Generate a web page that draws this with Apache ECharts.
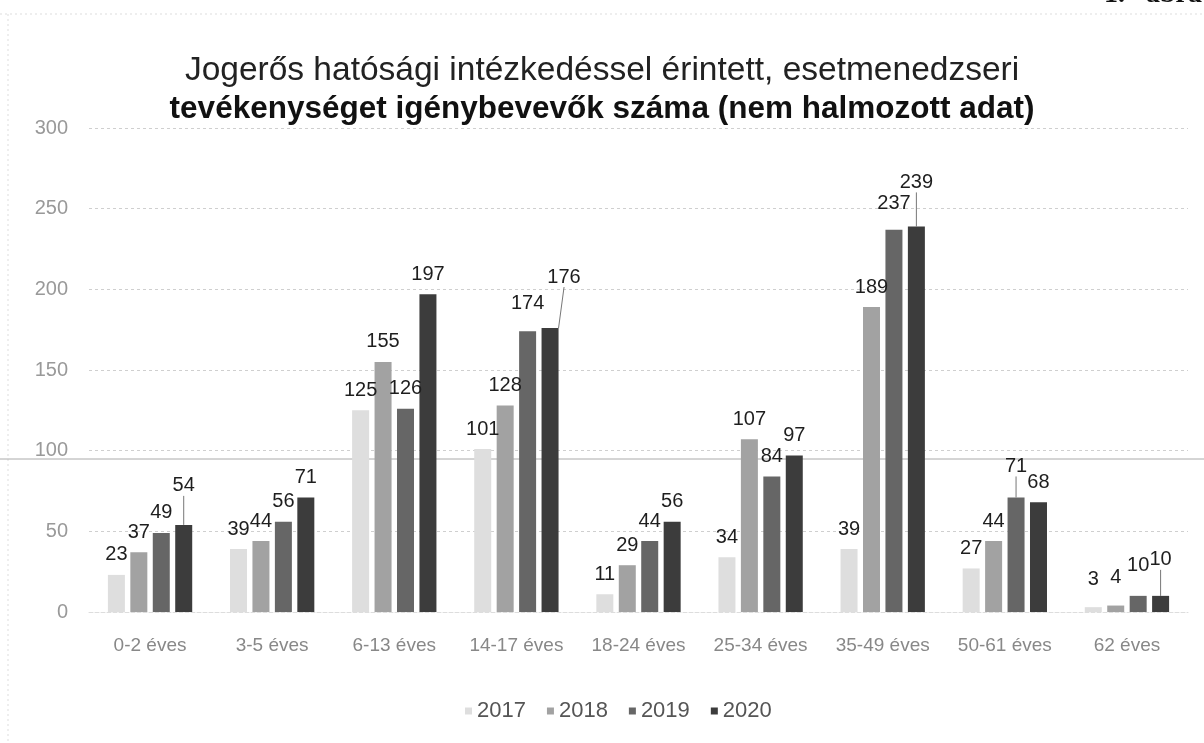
<!DOCTYPE html>
<html><head><meta charset="utf-8">
<script src="https://cdn.jsdelivr.net/npm/echarts@6/dist/echarts.min.js"></script>
<style>html,body{margin:0;padding:0;background:#fff}#c{width:1204px;height:743px}</style>
</head><body><div id="c"></div>
<script>
const categories = ['0-2 éves','3-5 éves','6-13 éves','14-17 éves','18-24 éves','25-34 éves','35-49 éves','50-61 éves','62 éves'];
const years = ['2017','2018','2019','2020'];
const v2017 = [23, 39, 125, 101, 11, 34, 39, 27, 3];
const v2018 = [37, 44, 155, 128, 29, 107, 189, 44, 4];
const v2019 = [49, 56, 126, 174, 44, 84, 237, 71, 10];
const v2020 = [54, 71, 197, 176, 56, 97, 239, 68, 10];
const yTicks = [0, 50, 100, 150, 200, 250, 300];

const colors = ['#dedede', '#a2a2a2', '#666666', '#3c3c3c'];
// label nudges (seriesIndex-dataIndex -> [dx, dy]) and leader lines
const nudges = {
  '3-0': [0, -19], '3-3': [14, -31], '3-6': [0, -24], '2-7': [0, -11], '3-8': [0, -16],
  '2-3': [0, -8], '2-6': [0, -6], '0-8': [0, -8], '1-8': [0, -8], '2-8': [0, -10]
};
const leaders = {'3-0':1, '3-3':1, '3-6':1, '2-7':1, '3-8':1};
const FONT = 'Liberation Sans, Arial, sans-serif';

const allVals = [v2017, v2018, v2019, v2020];
const series = allVals.map((vals, si) => ({
  name: years[si],
  type: 'bar',
  barWidth: 17,
  barGap: '32%',
  itemStyle: {color: colors[si]},
  label: {show: true, position: 'top', distance: 10, color: '#1e1e1e', fontSize: 20, fontFamily: FONT},
  labelLine: {show: false},
  labelLayout: function (p) {
    const n = nudges[si + '-' + p.dataIndex];
    return n ? {dx: n[0], dy: n[1]} : {};
  },
  data: vals.map((v, di) => leaders[si + '-' + di]
    ? {value: v, labelLine: {show: true, length2: 0, lineStyle: {color: '#777', width: 1}}}
    : v)
}));

const chart = echarts.init(document.getElementById('c'), null, {renderer: 'canvas'});
chart.setOption({
  animation: false,
  backgroundColor: '#fff',
  title: {
    text: '{a|Jogerős hatósági intézkedéssel érintett, esetmenedzseri}\n{b|tevékenységet igénybevevők száma (nem halmozott adat)}',
    left: 'center', top: 46,
    textStyle: {
      rich: {
        a: {fontSize: 33.5, fontWeight: 'normal', fontFamily: FONT, color: '#222', lineHeight: 39},
        b: {fontSize: 31.5, fontWeight: 'bold', fontFamily: FONT, color: '#111', lineHeight: 39}
      }
    }
  },
  legend: {
    top: 695, left: 460,
    itemWidth: 7, itemHeight: 7, itemGap: 21, icon: 'rect',
    textStyle: {fontSize: 22, color: '#555', fontFamily: FONT},
    data: years
  },
  grid: {left: 89, right: 16, top: 128, bottom: 131, containLabel: false},
  xAxis: {
    type: 'category', data: categories,
    axisLine: {show: true, lineStyle: {color: '#ddd', type: 'dashed'}},
    axisTick: {show: false},
    axisLabel: {interval: 0, fontSize: 19, color: '#888', margin: 24, fontFamily: FONT}
  },
  yAxis: {
    type: 'value', min: yTicks[0], max: yTicks[yTicks.length - 1], interval: yTicks[1] - yTicks[0],
    axisLine: {show: false}, axisTick: {show: false},
    axisLabel: {fontSize: 20, color: '#999', margin: 21, fontFamily: FONT},
    splitLine: {lineStyle: {color: '#cfcfcf', type: [3, 3], width: 1}}
  },
  graphic: [
    {type: 'text', left: 1104, top: -19,
     style: {text: '1.   ábra', font: 'bold 28px "Liberation Serif", "Times New Roman", serif', fill: '#111'}},
    {type: 'line', shape: {x1: 0, y1: 14, x2: 1204, y2: 14}, style: {stroke: '#ddd', lineWidth: 1, lineDash: [2, 3]}},
    {type: 'line', shape: {x1: 8, y1: 14, x2: 8, y2: 743}, style: {stroke: '#ddd', lineWidth: 1, lineDash: [2, 3]}},
    {type: 'line', shape: {x1: 0, y1: 459, x2: 1204, y2: 459}, style: {stroke: '#aaa', lineWidth: 1}}
  ],
  series: series
});
</script></body></html>
